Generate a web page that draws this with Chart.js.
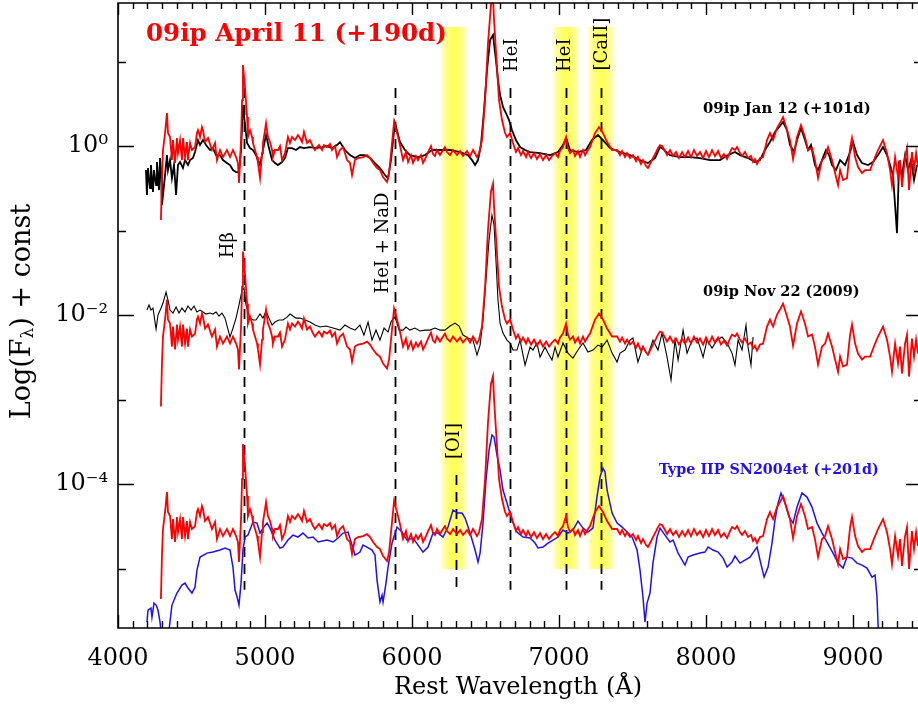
<!DOCTYPE html>
<html>
<head>
<meta charset="utf-8">
<script src="https://cdn.jsdelivr.net/npm/chart.js@4.4.1/dist/chart.umd.min.js"></script>
<style>
  html, body { margin: 0; padding: 0; background: #fff; }
  #wrap { width: 918px; height: 709px; }
</style>
</head>
<body>
<div id="wrap"><canvas id="spec" width="918" height="709"></canvas></div>
<script>
// ---- DATA (wavelength in A, log10 flux) ----

// 09ip April 11 (+190d), the red spectrum, drawn three times with a constant offset
const redWave = [4292,4299,4306,4320,4333,4340,4354,4367,4374,4388,
  4401,4408,4422,4435,4442,4456,4469,4476,4490,4503,
  4524,4537,4544,4558,4571,4578,4592,4612,4639,4660,
  4673,4694,4714,4741,4762,4782,4803,4816,4823,4837,
  4844,4850,4864,4878,4884,4898,4912,4918,4932,4946,
  4952,4966,4980,4986,5000,5007,5020,5034,5048,5054,
  5068,5088,5102,5116,5136,5156,5170,5184,5204,5224,
  5238,5252,5265,5286,5306,5327,5340,5354,5367,5388,
  5401,5422,5442,5456,5476,5490,5510,5531,5544,5558,
  5578,5592,5612,5633,5667,5694,5714,5735,5762,5782,
  5803,5830,5844,5864,5878,5905,5918,5932,5939,5959,
  5973,5993,6007,6027,6041,6061,6075,6095,6109,6129,
  6143,6156,6170,6190,6211,6224,6238,6259,6279,6306,
  6327,6347,6374,6395,6415,6442,6456,6476,6497,6517,
  6537,6551,6558,6578,6592,6612,6633,6646,6667,6687,
  6707,6721,6741,6755,6776,6789,6810,6830,6850,6871,
  6891,6912,6932,6952,6973,6993,7007,7027,7048,7061,
  7075,7095,7109,7129,7143,7163,7177,7197,7211,7245,
  7272,7299,7327,7361,7395,7415,7429,7449,7463,7483,
  7503,7524,7537,7558,7571,7592,7605,7626,7639,7660,
  7673,7687,7701,7721,7735,7755,7776,7796,7816,7837,
  7857,7878,7898,7918,7939,7959,7980,8000,8020,8041,
  8061,8082,8102,8122,8143,8163,8177,8197,8211,8231,
  8245,8265,8286,8306,8320,8333,8347,8367,8388,8415,
  8435,8456,8483,8503,8524,8551,8571,8592,8619,8646,
  8673,8694,8721,8741,8762,8789,8810,8830,8857,8878,
  8898,8912,8932,8959,8980,8993,9014,9034,9061,9082,
  9116,9150,9170,9204,9231,9252,9265,9286,9306,9320,
  9333,9354,9367,9381,9401,9415,9429,9442];
const redLogF = [-0.876,-0.367,-0.047,0.154,0.391,0.154,0.107,-0.166,0.071,-0.201,
  0.095,-0.083,0.071,-0.166,0.095,-0.130,0.047,-0.166,0.036,-0.047,
  -0.012,0.154,0.189,0.107,0.225,0.189,0.047,0.095,-0.047,0.036,
  -0.166,-0.047,-0.130,-0.047,-0.130,-0.047,-0.130,-0.201,-0.438,0.071,
  0.544,0.959,0.698,0.343,0.107,0.189,0.107,0.036,-0.047,-0.130,
  -0.201,-0.379,-0.083,0.036,0.189,0.272,0.107,0.047,-0.047,-0.130,
  -0.047,-0.047,0.000,-0.166,-0.083,0.107,0.036,0.107,0.071,0.130,
  0.095,0.047,0.166,0.036,0.071,-0.012,-0.047,-0.012,0.012,-0.047,
  0.012,-0.012,0.024,-0.047,0.000,-0.130,-0.047,-0.012,-0.083,-0.166,
  -0.201,-0.343,-0.166,-0.142,-0.130,-0.107,-0.142,-0.201,-0.260,-0.284,
  -0.367,-0.426,-0.320,0.036,0.284,0.107,0.012,-0.107,-0.166,-0.071,
  -0.189,-0.107,-0.201,-0.118,-0.166,-0.107,-0.201,-0.130,-0.071,0.000,
  -0.095,-0.118,-0.047,-0.107,-0.047,-0.012,-0.071,-0.107,-0.047,-0.107,
  -0.059,-0.118,-0.059,-0.118,-0.047,-0.130,-0.083,0.071,0.544,1.219,
  1.669,1.763,1.491,0.935,0.544,0.308,0.154,0.107,0.154,0.036,
  -0.071,-0.024,-0.107,-0.059,-0.130,-0.071,-0.142,-0.083,-0.154,-0.095,
  -0.166,-0.107,-0.166,-0.118,-0.083,-0.130,-0.059,-0.012,0.107,-0.024,
  -0.083,-0.047,-0.118,-0.059,-0.130,-0.047,-0.107,-0.047,-0.012,0.154,
  0.225,0.154,0.047,-0.047,-0.047,-0.107,-0.059,-0.130,-0.083,-0.142,
  -0.107,-0.178,-0.130,-0.213,-0.166,-0.237,-0.260,-0.189,-0.142,-0.071,
  -0.024,0.012,0.000,-0.059,-0.107,-0.047,-0.118,-0.071,-0.142,-0.071,
  -0.130,-0.059,-0.130,-0.047,-0.118,-0.071,-0.142,-0.059,-0.130,-0.047,
  -0.118,-0.059,-0.142,-0.095,-0.154,-0.071,-0.024,-0.047,-0.012,-0.083,
  -0.118,-0.071,-0.142,-0.118,-0.189,-0.154,-0.213,-0.142,-0.130,0.071,
  0.154,0.071,0.213,0.272,0.343,0.189,0.071,-0.154,0.107,0.249,
  0.107,-0.047,-0.024,-0.166,-0.379,-0.166,-0.130,-0.012,-0.166,-0.320,
  -0.462,-0.284,-0.402,-0.379,-0.024,0.095,-0.130,-0.249,-0.320,-0.284,
  -0.284,-0.130,-0.047,0.071,-0.083,-0.284,-0.462,-0.130,-0.367,-0.166,
  -0.485,-0.130,-0.024,-0.521,-0.071,-0.284,-0.083,-0.249];
const redShiftMid = -2.207;   // dex, the "+ const" of the middle copy
const redShiftLow = -4.485;   // dex, bottom copy

// 09ip Jan 12 (+101d), black, top
const janWave = [4190,4197,4204,4218,4224,4238,4245,4259,4265,4279,4286,4293,4299,4320,4333,4340,4354,4367,4381,4395,
  4408,4422,4442,4456,4476,4490,4510,4524,4544,4558,4578,4599,4626,4646,4667,4694,4714,4741,4762,4782,
  4803,4823,4837,4850,4864,4878,4898,4918,4939,4952,4966,4986,5007,5027,5048,5068,5088,5116,5136,5156,
  5184,5211,5238,5265,5306,5347,5388,5422,5456,5490,5510,5544,5578,5612,5646,5680,5714,5748,5782,5816,
  5837,5857,5884,5918,5952,5986,6041,6088,6136,6190,6259,6327,6381,6408,6429,6449,6469,6490,6510,6531,
  6551,6571,6585,6599,6619,6639,6660,6680,6707,6735,6769,6803,6871,6939,6993,7027,7048,7075,7129,7184,
  7224,7265,7299,7347,7415,7483,7551,7605,7653,7687,7701,7755,7823,7891,7959,8027,8095,8150,8197,8231,
  8286,8333,8367,8401,8435,8469,8503,8524,8551,8571,8599,8619,8646,8673,8694,8714,8741,8762,8789,8816,
  8837,8857,8884,8912,8946,8980,9000,9027,9061,9102,9136,9170,9204,9231,9252,9272,9299,9313,9333,9354,
  9374,9395,9415,9435];
const janLogF = [-0.284,-0.580,-0.260,-0.497,-0.225,-0.544,-0.284,-0.462,-0.189,-0.521,-0.142,-0.308,-0.698,-0.343,-0.107,-0.284,-0.166,-0.379,-0.225,-0.580,
  -0.225,-0.189,-0.260,-0.166,-0.225,-0.166,-0.142,-0.071,0.071,0.012,0.071,0.012,-0.047,-0.024,-0.107,-0.107,-0.166,-0.201,-0.225,-0.284,
  -0.308,-0.308,-0.047,0.485,0.249,0.036,-0.024,-0.047,-0.107,-0.166,-0.225,-0.047,0.130,-0.024,-0.166,-0.201,-0.225,-0.189,-0.142,-0.024,
  -0.024,-0.047,-0.012,-0.024,-0.012,-0.024,-0.012,0.000,-0.024,0.012,0.047,-0.047,-0.107,-0.142,-0.107,-0.107,-0.142,-0.201,-0.260,-0.343,
  -0.379,-0.166,0.272,0.047,-0.047,-0.107,-0.130,-0.107,-0.047,-0.047,-0.047,-0.071,-0.107,-0.166,-0.225,-0.166,0.012,0.426,0.899,1.254,
  1.314,1.018,0.781,0.604,0.462,0.391,0.308,0.189,0.071,-0.012,-0.047,-0.071,-0.083,-0.107,-0.071,0.012,0.095,-0.047,-0.071,-0.047,
  0.071,0.130,0.071,-0.024,-0.071,-0.107,-0.166,-0.201,-0.142,-0.012,-0.024,-0.107,-0.130,-0.130,-0.142,-0.166,-0.166,-0.107,-0.071,-0.107,
  -0.142,-0.189,-0.166,-0.047,0.047,0.166,0.237,0.284,0.189,0.012,-0.071,0.071,0.213,0.071,-0.047,0.012,-0.225,-0.284,-0.166,-0.047,
  -0.107,-0.225,-0.284,-0.166,-0.225,-0.071,0.047,-0.107,-0.201,-0.225,-0.189,-0.107,-0.012,-0.107,-0.225,-0.343,-1.030,-0.225,-0.343,-0.107,
  -0.284,-0.166,-0.402,-0.225];

// 09ip Nov 22 (2009), black, middle
const novWave = [4197,4211,4224,4238,4259,4272,4293,4306,4327,4340,4354,4374,4395,4415,4435,4456,4476,4497,4517,4537,
  4558,4578,4599,4626,4646,4667,4687,4707,4728,4762,4782,4803,4823,4844,4857,4871,4898,4918,4939,4966,
  4986,5007,5027,5048,5068,5095,5122,5150,5170,5190,5211,5238,5272,5306,5340,5374,5415,5463,5510,5544,
  5578,5612,5646,5673,5701,5728,5755,5782,5810,5837,5857,5878,5891,5912,5939,5959,5986,6020,6054,6088,
  6122,6156,6190,6224,6259,6293,6320,6347,6381,6415,6442,6463,6483,6503,6524,6544,6558,6571,6585,6599,
  6619,6646,6667,6687,6714,6735,6769,6803,6823,6850,6871,6905,6925,6952,6973,6993,7027,7061,7095,7129,
  7163,7197,7231,7265,7293,7327,7361,7395,7415,7449,7483,7503,7537,7571,7605,7639,7673,7701,7735,7762,
  7789,7810,7844,7871,7905,7939,7959,7980,8007,8041,8075,8109,8143,8177,8197,8218,8245,8272,8286,8306,8320];
const novLogF = [-1.941,-1.882,-1.941,-1.917,-2.166,-2.000,-1.917,-1.858,-1.728,-1.822,-1.941,-1.976,-1.905,-1.976,-1.917,-1.964,-1.893,-1.941,-1.893,-1.964,
  -1.941,-1.964,-1.988,-1.976,-1.988,-1.964,-2.012,-1.976,-2.036,-2.260,-2.154,-2.036,-1.882,-1.704,-1.680,-1.882,-2.036,-2.059,-2.059,-1.988,
  -2.036,-1.953,-2.036,-2.118,-2.083,-2.059,-2.059,-2.024,-1.988,-2.012,-2.036,-2.036,-2.059,-2.083,-2.118,-2.142,-2.130,-2.154,-2.178,-2.118,
  -2.154,-2.178,-2.118,-2.237,-2.083,-2.296,-2.178,-2.296,-2.154,-2.201,-2.083,-2.024,-2.059,-2.178,-2.178,-2.142,-2.178,-2.154,-2.189,-2.178,
  -2.178,-2.154,-2.178,-2.178,-2.130,-2.095,-2.130,-2.237,-2.272,-2.296,-2.473,-2.355,-2.059,-1.586,-1.112,-0.817,-0.935,-1.349,-1.822,-2.095,
  -2.213,-2.296,-2.331,-2.414,-2.414,-2.296,-2.592,-2.379,-2.414,-2.331,-2.497,-2.379,-2.450,-2.533,-2.379,-2.497,-2.331,-2.450,-2.509,-2.414,
  -2.331,-2.438,-2.414,-2.355,-2.379,-2.296,-2.450,-2.556,-2.450,-2.414,-2.296,-2.272,-2.556,-2.379,-2.473,-2.296,-2.414,-2.213,-2.497,-2.769,
  -2.296,-2.533,-2.178,-2.450,-2.296,-2.272,-2.379,-2.497,-2.296,-2.391,-2.296,-2.260,-2.331,-2.450,-2.592,-2.296,-2.414,-2.118,-2.379,-2.592,-2.260];

// Type IIP SN2004et (+201d), blue, bottom
const etWave = [4197,4204,4224,4231,4245,4259,4272,4286,4299,4327,4347,4367,4401,4435,4456,4476,4503,4524,4537,4558,
  4605,4646,4694,4728,4762,4782,4796,4810,4823,4837,4850,4864,4884,4918,4946,4966,4986,5014,5034,5068,
  5102,5122,5156,5190,5224,5258,5293,5327,5361,5422,5463,5497,5531,5565,5592,5612,5646,5667,5694,5728,
  5748,5762,5782,5796,5803,5823,5837,5864,5898,5932,5966,6007,6041,6075,6109,6143,6177,6211,6245,6279,
  6313,6340,6361,6395,6429,6449,6463,6483,6503,6524,6544,6558,6578,6599,6619,6646,6680,6714,6755,6803,
  6837,6857,6891,6925,6959,6993,7027,7061,7095,7129,7163,7197,7231,7258,7279,7299,7313,7327,7361,7395,
  7429,7463,7497,7531,7551,7571,7585,7599,7619,7639,7667,7687,7721,7755,7776,7810,7857,7878,7912,7959,
  7993,8014,8048,8082,8116,8143,8177,8197,8231,8265,8299,8347,8367,8395,8422,8449,8469,8490,8510,8537,
  8565,8592,8619,8653,8687,8721,8755,8789,8823,8864,8898,8932,8959,8993,9027,9061,9095,9129,9150,9163,9170,9177];
const etLogF = [-5.633,-5.491,-5.467,-5.574,-5.408,-5.432,-5.491,-5.633,-5.846,-5.846,-5.728,-5.432,-5.290,-5.195,-5.172,-5.231,-5.290,-5.219,-5.018,-4.864,
  -4.817,-4.805,-4.781,-4.757,-4.781,-4.982,-5.254,-5.337,-5.432,-5.172,-4.781,-4.627,-4.604,-4.450,-4.462,-4.580,-4.521,-4.462,-4.521,-4.663,
  -4.757,-4.746,-4.663,-4.604,-4.627,-4.580,-4.639,-4.627,-4.686,-4.663,-4.686,-4.639,-4.580,-4.568,-4.722,-4.840,-4.805,-4.722,-4.746,-4.781,
  -4.840,-5.136,-5.396,-5.314,-5.396,-5.172,-4.982,-4.698,-4.509,-4.568,-4.663,-4.639,-4.722,-4.805,-4.746,-4.580,-4.580,-4.627,-4.509,-4.308,
  -4.343,-4.343,-4.402,-4.580,-4.781,-4.923,-4.817,-4.462,-3.953,-3.598,-3.420,-3.444,-3.657,-3.834,-4.071,-4.225,-4.426,-4.568,-4.627,-4.639,
  -4.698,-4.757,-4.746,-4.698,-4.663,-4.627,-4.544,-4.580,-4.544,-4.438,-4.521,-4.568,-4.521,-4.154,-3.917,-3.811,-3.858,-4.071,-4.343,-4.462,
  -4.509,-4.568,-4.627,-4.781,-5.018,-5.337,-5.633,-5.408,-5.290,-4.935,-4.627,-4.521,-4.604,-4.686,-4.663,-4.817,-4.959,-4.864,-4.840,-4.817,
  -4.805,-4.746,-4.781,-4.805,-4.876,-4.982,-4.923,-4.852,-4.935,-4.899,-4.864,-4.746,-4.899,-5.101,-4.982,-4.698,-4.426,-4.225,-4.107,-4.225,
  -4.391,-4.462,-4.272,-4.107,-4.154,-4.272,-4.462,-4.580,-4.686,-4.817,-4.935,-4.994,-4.864,-4.876,-4.935,-4.959,-4.994,-5.101,-5.077,-5.337,-5.645,-5.905];

// line identifications (wavelength of the marker) and the shaded windows
const lineIds   = ['H\u03b2', 'HeI + NaD', '[OI]', 'HeI', 'HeI', '[CaII]'];
const lineWaves = [4857, 5884, 6300, 6665, 7048, 7286];
const bandLo = [6190, 6952, 7190];
const bandHi = [6381, 7143, 7381];

const xTickValues = [4000, 5000, 6000, 7000, 8000, 9000];
const yDecades = [-5, -4, -3, -2, -1, 0, 1];

// ---- build ----
function toPoints(wave, logf, shift) {
  return wave.map((w, i) => ({ x: w, y: Math.pow(10, logf[i] + shift) }));
}
const SUP = { '0': '\u2070', '1': '\u00b9', '2': '\u00b2', '3': '\u00b3', '4': '\u2074', '5': '\u2075', '-': '\u207b' };
function sup(k) { return String(k).split('').map(c => SUP[c]).join(''); }

const SERIF = "'DejaVu Serif', 'Liberation Serif', serif";

function px(chart, w) { return chart.scales.x.getPixelForValue(w); }
function py(chart, f) { return chart.scales.y.getPixelForValue(f); }

const decor = {
  id: 'decor',
  beforeDatasetsDraw(chart) {
    const { ctx, chartArea: a } = chart;
    ctx.save();
    ctx.beginPath();
    ctx.rect(a.left, a.top, a.right - a.left, a.bottom - a.top);
    ctx.clip();
    // yellow windows
    const yTop = py(chart, 25.6), yBot = py(chart, 9.9e-6);
    for (let i = 0; i < bandLo.length; i++) {
      const x0 = px(chart, bandLo[i]), x1 = px(chart, bandHi[i]);
      const g = ctx.createLinearGradient(x0, 0, x1, 0);
      g.addColorStop(0, 'rgba(255,255,0,0.05)');
      g.addColorStop(0.2, 'rgba(255,255,40,0.55)');
      g.addColorStop(0.45, 'rgba(255,255,50,0.8)');
      g.addColorStop(0.6, 'rgba(255,255,50,0.8)');
      g.addColorStop(0.85, 'rgba(255,255,40,0.45)');
      g.addColorStop(1, 'rgba(255,255,0,0.0)');
      ctx.fillStyle = g;
      ctx.fillRect(x0, yTop, x1 - x0, yBot - yTop);
    }
    // dashed line markers
    ctx.setLineDash([10, 7]);
    ctx.lineWidth = 1.8;
    ctx.strokeStyle = '#000';
    const yEnd = py(chart, 5.6e-6);
    lineWaves.forEach((w, i) => {
      const x = Math.round(px(chart, w)) + 0.5;
      const y0 = lineIds[i] === '[OI]' ? py(chart, 1.28e-4) : py(chart, 4.86);
      ctx.beginPath();
      ctx.moveTo(x, y0);
      ctx.lineTo(x, yEnd);
      ctx.stroke();
    });
    ctx.restore();
  },
  afterDatasetsDraw(chart) {
    const { ctx, chartArea: a } = chart;
    ctx.save();
    // frame
    ctx.strokeStyle = '#000';
    ctx.lineWidth = 1.6;
    ctx.beginPath();
    ctx.moveTo(a.right, a.top); ctx.lineTo(a.left, a.top); ctx.lineTo(a.left, a.bottom); ctx.lineTo(a.right, a.bottom);
    ctx.stroke();
    // inward ticks
    ctx.lineWidth = 1.4;
    ctx.beginPath();
    for (let v = 4000; v <= 9400; v += 100) {
      const x = Math.round(px(chart, v)) + 0.5;
      const big = v % 1000 === 0;
      ctx.moveTo(x, a.bottom); ctx.lineTo(x, a.bottom - (big ? 13 : 7));
      ctx.moveTo(x, a.top); ctx.lineTo(x, a.top + (big ? 12 : 6));
    }
    yDecades.forEach(k => {
      const y = Math.round(py(chart, Math.pow(10, k))) + 0.5;
      const len = k % 2 === 0 ? 16 : 8;
      ctx.moveTo(a.left, y); ctx.lineTo(a.left + len, y);
      ctx.moveTo(a.right, y); ctx.lineTo(a.right - len + 4, y);
    });
    ctx.stroke();

    // line labels, rotated
    ctx.fillStyle = '#000';
    ctx.font = '18px ' + SERIF;
    ctx.textAlign = 'center';
    ctx.textBaseline = 'middle';
    const labelAt = [[4748, 0.0673], [5803, 0.0711], [6286, 3.23e-4], [6680, 11.9], [7041, 11.9], [7293, 16.1]];
    lineIds.forEach((t, i) => {
      ctx.save();
      ctx.translate(px(chart, labelAt[i][0]), py(chart, labelAt[i][1]));
      ctx.rotate(-Math.PI / 2);
      ctx.fillText(t, 0, 0);
      ctx.restore();
    });

    // spectrum captions
    ctx.textAlign = 'left';
    ctx.font = 'bold 24.6px ' + SERIF;
    ctx.fillStyle = '#ff0000';
    ctx.fillText('09ip April 11 (+190d)', px(chart, 4190), py(chart, 20.6));
    ctx.font = 'bold 14.8px ' + SERIF;
    ctx.fillStyle = '#000';
    ctx.fillText('09ip Jan 12 (+101d)', px(chart, 7980), py(chart, 2.74));
    ctx.font = 'bold 14.5px ' + SERIF;
    ctx.fillText('09ip Nov 22 (2009)', px(chart, 7980), py(chart, 0.0187));
    ctx.font = 'bold 14.3px ' + SERIF;
    ctx.fillStyle = '#2010ee';
    ctx.fillText('Type IIP SN2004et (+201d)', px(chart, 7680), py(chart, 1.465e-4));

    // y title with subscript lambda
    ctx.fillStyle = '#000';
    ctx.save();
    ctx.translate(23, (a.top + a.bottom) / 2 - 4);
    ctx.rotate(-Math.PI / 2);
    ctx.textBaseline = 'middle';
    ctx.textAlign = 'left';
    const big = '27px ' + SERIF, small = '17px ' + SERIF;
    const parts = [['Log(F', big, 0], ['\u03bb', small, 6], [') + const', big, 0]];
    let total = 0;
    parts.forEach(p => { ctx.font = p[1]; total += ctx.measureText(p[0]).width; });
    let cx = -total / 2;
    parts.forEach(p => { ctx.font = p[1]; ctx.fillText(p[0], cx, p[2]); cx += ctx.measureText(p[0]).width; });
    ctx.restore();
    ctx.restore();
  }
};

const ctx = document.getElementById('spec').getContext('2d');
const chart = new Chart(ctx, {
  type: 'line',
  data: {
    datasets: [
      { label: 'Apr 11', data: toPoints(redWave, redLogF, 0), borderColor: '#ff0000', borderWidth: 1.8 },
      { label: 'Apr 11 mid', data: toPoints(redWave, redLogF, redShiftMid), borderColor: '#ff0000', borderWidth: 1.8 },
      { label: 'Apr 11 low', data: toPoints(redWave, redLogF, redShiftLow), borderColor: '#ff0000', borderWidth: 1.8 },
      { label: 'Jan 12', data: toPoints(janWave, janLogF, 0), borderColor: '#000000', borderWidth: 1.8 },
      { label: 'Nov 22', data: toPoints(novWave, novLogF, 0), borderColor: '#000000', borderWidth: 1.1 },
      { label: 'SN2004et', data: toPoints(etWave, etLogF, 0), borderColor: '#2010ee', borderWidth: 1.5 }
    ]
  },
  options: {
    responsive: false,
    animation: false,
    parsing: false,
    layout: { padding: { top: 3, right: 0, bottom: 0, left: 0 } },
    elements: { point: { radius: 0 }, line: { tension: 0, fill: false } },
    plugins: { legend: { display: false }, tooltip: { enabled: false } },
    scales: {
      x: {
        type: 'linear',
        min: 4000,
        max: 9442,
        grid: { display: false, drawTicks: false },
        border: { display: false },
        afterBuildTicks: s => { s.ticks = xTickValues.map(v => ({ value: v })); },
        afterFit: s => { s.height = 81; s.paddingLeft = 0; s.paddingRight = 0; },
        ticks: { color: '#000', font: { family: SERIF, size: 24 }, padding: 16, maxRotation: 0, callback: v => String(v) },
        title: { display: true, text: 'Rest Wavelength (\u00c5)', color: '#000', font: { family: SERIF, size: 24 }, padding: { top: 0, bottom: 7 } }
      },
      y: {
        type: 'logarithmic',
        min: 1.98e-6,
        max: 49.3,
        grid: { display: false, drawTicks: false },
        border: { display: false },
        afterBuildTicks: s => { s.ticks = yDecades.map(k => ({ value: Math.pow(10, k) })); },
        afterFit: s => { s.width = 118; s.paddingTop = 0; s.paddingBottom = 0; },
        ticks: {
          color: '#000', font: { family: SERIF, size: 24 }, padding: 10,
          callback: v => { const k = Math.round(Math.log10(v)); return k % 2 === 0 ? '10' + sup(k) : ''; }
        }
      }
    }
  },
  plugins: [decor]
});
</script>
</body>
</html>
